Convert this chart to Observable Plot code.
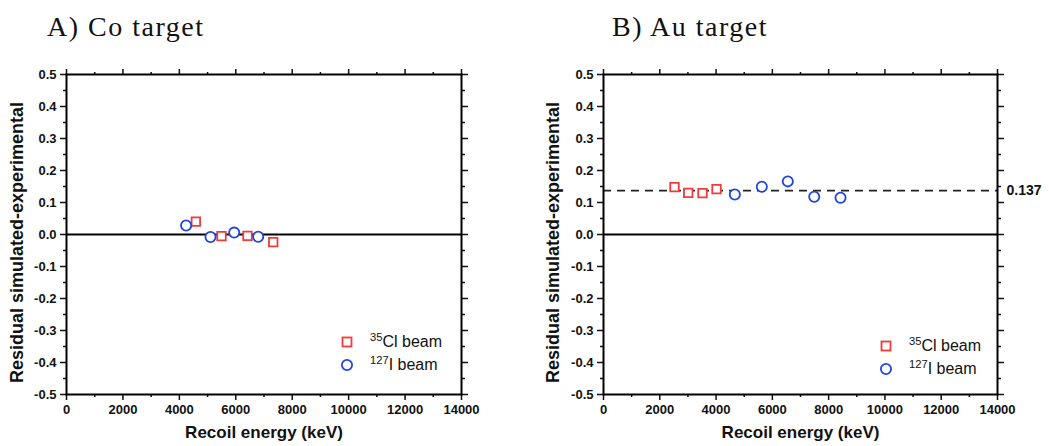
<!DOCTYPE html>
<html><head><meta charset="utf-8">
<script src="https://cdn.jsdelivr.net/npm/d3@7"></script>
<script src="https://cdn.jsdelivr.net/npm/@observablehq/plot@0.6"></script>
<style>
body{margin:0;background:#fff;width:1049px;height:446px;overflow:hidden;position:relative;font-family:"Liberation Sans",Arial,sans-serif;}
.title{position:absolute;font-family:"Liberation Serif","Times New Roman",serif;font-size:28px;line-height:28px;letter-spacing:1.5px;color:#111;white-space:nowrap}
.panel{position:absolute;top:50px}
.leg{position:absolute;font-size:16px;line-height:16px;white-space:nowrap;color:#111}
.leg sup{font-size:0.7em;position:relative;top:-0.45em;vertical-align:baseline;line-height:0}
.mk{position:absolute;overflow:visible}
</style></head><body>
<script>
// ---- data ----
const panelTitles = ["A) Co target", "B) Au target"];
const xLabel = "Recoil energy (keV)";
const yLabel = "Residual simulated-experimental";
const xTicks = [0, 2000, 4000, 6000, 8000, 10000, 12000, 14000];
const xMinor = [1000, 3000, 5000, 7000, 9000, 11000, 13000];
const yTicks = [-0.5, -0.4, -0.3, -0.2, -0.1, 0, 0.1, 0.2, 0.3, 0.4, 0.5];
const yMinor = [-0.45, -0.35, -0.25, -0.15, -0.05, 0.05, 0.15, 0.25, 0.35, 0.45];
const seriesNames = ["35Cl beam", "127I beam"];

const coClX = [4585, 5494, 6416, 7327];
const coClY = [0.040, -0.005, -0.004, -0.024];
const coIX = [4240, 5104, 5944, 6794];
const coIY = [0.028, -0.008, 0.006, -0.007];

const auClX = [2523, 3010, 3518, 4016];
const auClY = [0.148, 0.130, 0.129, 0.142];
const auIX = [4667, 5626, 6549, 7488, 8422];
const auIY = [0.125, 0.149, 0.166, 0.118, 0.115];
const auMean = 0.137;

const RED = "#f23a3a", BLUE = "#1f44e0";

function pts(xs, ys) { return xs.map((x, i) => ({x, y: ys[i]})); }

function makePanel(cfg) {
  const H = 396;
  const marks = [
    Plot.ruleY([0], {stroke: "black", strokeWidth: 2}),
  ];
  if (cfg.mean != null) {
    marks.push(Plot.ruleY([cfg.mean], {stroke: "#222", strokeWidth: 1.8, strokeDasharray: "8,6"}));
    marks.push(Plot.text([cfg.mean], {y: d => d, text: d => d.toFixed(3), frameAnchor: "right", dx: 9, textAnchor: "start", fontSize: 14, fontWeight: "bold", fill: "#111"}));
  }
  const fmtY = d => d.toFixed(1);
  const fmtX = d => String(d);
  const none = () => "";
  marks.push(
    Plot.axisY({anchor: "left", ticks: yTicks, tickSize: 6, tickPadding: 4, tickFormat: fmtY, strokeWidth: 1.5, fontSize: 13, fontWeight: "bold", label: null}),
    Plot.axisY({anchor: "left", ticks: yMinor, tickSize: 3, tickFormat: none, strokeWidth: 1.5, label: null}),
    Plot.axisY({anchor: "right", ticks: yTicks, tickSize: 6, tickFormat: none, strokeWidth: 1.5, label: null}),
    Plot.axisY({anchor: "right", ticks: yMinor, tickSize: 3, tickFormat: none, strokeWidth: 1.5, label: null}),
    Plot.axisX({anchor: "bottom", ticks: xTicks, tickSize: 6, tickPadding: 4, tickFormat: fmtX, strokeWidth: 1.5, fontSize: 13, fontWeight: "bold", label: null}),
    Plot.axisX({anchor: "bottom", ticks: xMinor, tickSize: 3, tickFormat: none, strokeWidth: 1.5, label: null}),
    Plot.axisX({anchor: "top", ticks: xTicks, tickSize: 6, tickFormat: none, strokeWidth: 1.5, label: null}),
    Plot.axisX({anchor: "top", ticks: xMinor, tickSize: 3, tickFormat: none, strokeWidth: 1.5, label: null}),
    Plot.frame({stroke: "black", strokeWidth: 2}),
    Plot.dot(cfg.cl, {x: "x", y: "y", symbol: "square", r: 4.8, stroke: RED, fill: "white", strokeWidth: 1.8}),
    Plot.dot(cfg.io, {x: "x", y: "y", symbol: "circle", r: 5.1, stroke: BLUE, fill: "white", strokeWidth: 1.8}),
    Plot.text([yLabel], {text: d => d, frameAnchor: "left", textAnchor: "middle", rotate: -90, dx: cfg.ylDx, dy: 8, fontSize: 18, fontWeight: "bold", fill: "#111"}),
    Plot.text([xLabel], {text: d => d, frameAnchor: "bottom", textAnchor: "middle", dy: 43, fontSize: 17, fontWeight: "bold", fill: "#111"})
  );
  const svg = Plot.plot({
    width: cfg.width, height: H,
    marginLeft: cfg.mL, marginRight: cfg.mR, marginTop: 24, marginBottom: 52,
    x: {domain: [0, 14000]},
    y: {domain: [-0.5, 0.5]},
    style: {fontFamily: '"Liberation Sans", Arial, sans-serif', color: "#111", background: "white", overflow: "visible"},
    marks
  });
  const wrap = document.createElement("div");
  wrap.className = "panel";
  wrap.style.left = cfg.left + "px";
  wrap.appendChild(svg);
  document.body.appendChild(wrap);

  const t = document.createElement("div");
  t.className = "title";
  t.textContent = cfg.title;
  t.style.left = cfg.titleX + "px";
  t.style.top = "13px";
  document.body.appendChild(t);

  // legend (HTML)
  const entries = [
    {name: seriesNames[0], sym: "square", color: RED},
    {name: seriesNames[1], sym: "circle", color: BLUE}
  ];
  entries.forEach((e, i) => {
    const cy = cfg.legY[i];
    const m = document.createElementNS("http://www.w3.org/2000/svg", "svg");
    m.setAttribute("class", "mk");
    m.setAttribute("width", 14); m.setAttribute("height", 14);
    m.style.left = (cfg.legX - 7) + "px"; m.style.top = (cy - 7) + "px";
    if (e.sym === "square") {
      m.innerHTML = `<rect x="2.5" y="2.5" width="9" height="9" fill="white" stroke="${e.color}" stroke-width="1.8"/>`;
    } else {
      m.innerHTML = `<circle cx="7" cy="7" r="5.1" fill="white" stroke="${e.color}" stroke-width="1.8"/>`;
    }
    document.body.appendChild(m);
    const s = document.createElement("div");
    s.className = "leg";
    const mm = e.name.match(/^(\d+)(.*)$/);
    s.innerHTML = `<sup>${mm[1]}</sup>${mm[2]}`;
    s.style.left = cfg.legTextX + "px";
    s.style.top = (cy + 5 - 13.5) + "px";
    document.body.appendChild(s);
  });
}

makePanel({left: 0, width: 524, mL: 66, mR: 63, ylDx: -49, title: panelTitles[0], titleX: 47,
  cl: pts(coClX, coClY), io: pts(coIX, coIY), mean: null,
  legX: 347, legTextX: 370, legY: [342, 365]});
makePanel({left: 524, width: 525, mL: 79, mR: 52, ylDx: -50, title: panelTitles[1], titleX: 612,
  cl: pts(auClX, auClY), io: pts(auIX, auIY), mean: auMean,
  legX: 886, legTextX: 909, legY: [346, 369]});
</script>
</body></html>
